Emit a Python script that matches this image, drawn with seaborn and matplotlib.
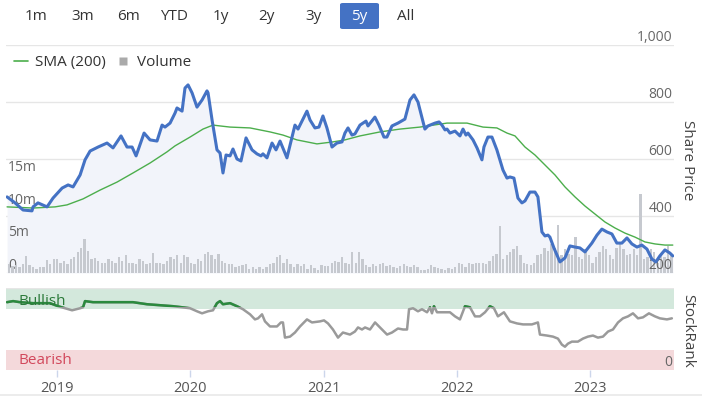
import numpy as np
import matplotlib
matplotlib.use("Agg")
import matplotlib.pyplot as plt
import seaborn as sns
from matplotlib.lines import Line2D
from matplotlib.patches import Rectangle, FancyBboxPatch

# ---------------- data (x in decimal years) ----------------
price_t = [2018.625, 2018.685, 2018.745, 2018.812, 2018.82, 2018.857, 2018.925, 2018.97, 2019.038, 2019.083,
           2019.12, 2019.173, 2019.21, 2019.248, 2019.308, 2019.375, 2019.42, 2019.48, 2019.525, 2019.563,
           2019.593, 2019.653, 2019.698, 2019.75, 2019.788, 2019.81, 2019.848, 2019.885, 2019.9, 2019.938,
           2019.96, 2019.983, 2020.013, 2020.05, 2020.088, 2020.125, 2020.133, 2020.163, 2020.2, 2020.223,
           2020.245, 2020.268, 2020.298, 2020.32, 2020.35, 2020.38, 2020.418, 2020.463, 2020.5, 2020.53,
           2020.545, 2020.575, 2020.613, 2020.643, 2020.673, 2020.725, 2020.785, 2020.808, 2020.875, 2020.898,
           2020.935, 2020.965, 2020.995, 2021.025, 2021.063, 2021.1, 2021.138, 2021.16, 2021.183, 2021.213,
           2021.235, 2021.273, 2021.318, 2021.333, 2021.385, 2021.415, 2021.453, 2021.475, 2021.513, 2021.558,
           2021.61, 2021.648, 2021.678, 2021.708, 2021.76, 2021.783, 2021.836, 2021.866, 2021.888, 2021.911,
           2021.926, 2021.948, 2021.986, 2022.023, 2022.046, 2022.068, 2022.083, 2022.121, 2022.151, 2022.188,
           2022.203, 2022.233, 2022.263, 2022.3, 2022.316, 2022.346, 2022.376, 2022.398, 2022.428, 2022.458,
           2022.488, 2022.511, 2022.548, 2022.586, 2022.608, 2022.638, 2022.661, 2022.683, 2022.698, 2022.728,
           2022.773, 2022.811, 2022.848, 2022.886, 2022.923, 2022.961, 2023.013, 2023.051, 2023.088, 2023.126,
           2023.163, 2023.2, 2023.238, 2023.276, 2023.313, 2023.351, 2023.388, 2023.426, 2023.463, 2023.493,
           2023.523, 2023.561, 2023.598, 2023.62]
price_v = [467, 446, 421, 418, 432, 446, 432, 463, 498, 509,
           502, 544, 597, 628, 642, 656, 639, 681, 642, 642,
           611, 691, 667, 663, 719, 712, 726, 761, 779, 768,
           849, 860, 832, 782, 807, 839, 832, 737, 632, 621,
           551, 614, 611, 635, 600, 593, 674, 632, 618, 611,
           618, 604, 656, 632, 663, 604, 719, 705, 768, 737,
           709, 712, 751, 709, 642, 656, 660, 691, 709, 684,
           688, 719, 733, 716, 747, 719, 677, 677, 716, 726,
           740, 807, 825, 800, 705, 716, 726, 730, 719, 702,
           705, 691, 698, 681, 705, 684, 691, 667, 639, 597,
           642, 677, 677, 632, 607, 561, 533, 537, 533, 463,
           446, 453, 484, 484, 467, 344, 330, 333, 326, 288,
           239, 253, 295, 291, 288, 274, 305, 333, 354, 344,
           337, 305, 305, 323, 302, 291, 298, 284, 249, 239,
           260, 281, 270, 260]

sma_t = [2018.625, 2018.82, 2018.985, 2019.075, 2019.195, 2019.323, 2019.45, 2019.57, 2019.698, 2019.825,
         2019.885, 2019.998, 2020.095, 2020.17, 2020.223, 2020.298, 2020.448, 2020.598, 2020.695, 2020.8,
         2020.95, 2021.07, 2021.16, 2021.273, 2021.423, 2021.573, 2021.723, 2021.926, 2022.076, 2022.196,
         2022.3, 2022.376, 2022.436, 2022.511, 2022.586, 2022.661, 2022.736, 2022.811, 2022.886, 2022.961,
         2023.036, 2023.111, 2023.186, 2023.261, 2023.336, 2023.411, 2023.486, 2023.561, 2023.62]
sma_v = [432, 428, 432, 439, 460, 491, 519, 551, 586, 625,
         646, 677, 705, 719, 716, 712, 709, 695, 684, 667,
         653, 660, 667, 681, 695, 705, 712, 726, 726, 712,
         709, 691, 681, 642, 614, 579, 544, 502, 467, 435,
         407, 379, 358, 340, 326, 309, 302, 298, 298]

# weekly-ish volume bars (millions), first to last trading period
volume_m = [1.4, 1.1, 1.2, 0.9, 1.4, 2.6, 1.2, 0.9, 0.6, 0.9, 0.9, 2.0, 1.4, 2.2, 2.2, 1.6, 1.9, 1.4, 2.2, 2.4,
            3.2, 3.9, 5.2, 3.4, 2.2, 2.3, 1.9, 1.6, 1.6, 2.2, 1.9, 1.6, 2.4, 1.9, 2.7, 1.6, 1.6, 1.4, 2.2, 1.9,
            1.4, 1.6, 3.1, 1.6, 1.6, 1.4, 1.9,
            2.4, 2.2, 2.7, 1.6, 2.7, 2.4, 1.6, 1.4, 2.2, 1.9, 2.9, 3.3, 2.7, 2.2, 2.9, 1.9, 1.6, 1.4, 1.4, 0.9,
            1.1, 1.2, 1.4, 0.6, 0.9, 0.6, 0.9, 0.6, 0.9, 1.4, 1.6, 2.4, 2.8, 1.6, 2.2, 1.4, 0.9, 1.4, 1.1, 1.4,
            0.6, 1.2, 0.7, 0.5, 1.2, 1.1, 1.1, 1.6, 1.9, 1.7,
            2.4, 1.6, 1.4, 3.2, 1.6, 3.3, 2.2, 1.2, 0.9, 1.4, 1.1, 1.4, 1.6, 1.1, 1.2, 0.9, 0.7, 1.1, 1.4, 1.1,
            0.9, 1.2, 0.9, 0.5, 0.4, 0.6, 1.2, 0.9, 0.7, 0.6, 0.4, 0.7, 0.6, 0.9, 1.5, 1.4, 0.9, 1.6, 1.4, 1.6,
            1.6, 1.5, 1.4, 1.9, 2.6, 2.9, 7.2, 2.2, 2.7, 3.2,
            3.7, 4.2, 2.7, 1.6, 1.4, 1.2, 1.6, 2.7, 2.9, 3.9, 3.4, 4.5, 3.8, 7.3, 2.7, 3.7, 2.9, 2.7, 5.6, 2.4,
            2.2, 3.7, 2.7, 1.6, 2.4, 3.2, 4.2, 3.7, 2.7, 2.2, 3.9, 4.7, 3.7, 2.7, 2.9, 3.7, 2.7, 12.2, 2.2, 2.4,
            3.7, 3.2, 1.6, 2.7, 2.4, 4.2, 2.7]
volume_start, volume_end = 2018.64, 2023.61

sr_t = [2018.625, 2018.67, 2018.722, 2018.82, 2018.947, 2019.008, 2019.06, 2019.113, 2019.173, 2019.195,
        2019.21, 2019.27, 2019.375, 2019.473, 2019.57, 2019.675, 2019.773, 2019.87, 2019.938, 2019.998,
        2020.05, 2020.088, 2020.133, 2020.17, 2020.2, 2020.223, 2020.245, 2020.298, 2020.35, 2020.395,
        2020.448, 2020.485, 2020.508, 2020.538, 2020.56, 2020.598, 2020.65, 2020.68, 2020.695, 2020.71,
        2020.748, 2020.785, 2020.823, 2020.875, 2020.913, 2020.973, 2021.003, 2021.033, 2021.07, 2021.108,
        2021.145, 2021.198, 2021.235, 2021.258, 2021.288, 2021.311, 2021.348, 2021.386, 2021.423, 2021.476,
        2021.513, 2021.558, 2021.596, 2021.626, 2021.641, 2021.671, 2021.708, 2021.738, 2021.776, 2021.798,
        2021.813, 2021.828, 2021.851, 2021.896, 2021.948, 2021.986, 2022.023, 2022.061, 2022.098, 2022.136,
        2022.173, 2022.211, 2022.248, 2022.278, 2022.308, 2022.353, 2022.398, 2022.451, 2022.496, 2022.563,
        2022.608, 2022.623, 2022.676, 2022.721, 2022.758, 2022.788, 2022.811, 2022.833, 2022.863, 2022.908,
        2022.946, 2022.983, 2023.021, 2023.058, 2023.096, 2023.134, 2023.171, 2023.209, 2023.246, 2023.284,
        2023.321, 2023.359, 2023.396, 2023.441, 2023.486, 2023.523, 2023.576, 2023.613]
sr_v = [82.7, 84, 82.7, 81.5, 81.5, 77.8, 75.3, 72.8, 75.3, 76.5,
        84, 82.7, 82.7, 82.7, 82.7, 80.2, 79, 77.8, 76.5, 75.3,
        71.6, 69.1, 71.6, 72.8, 81.5, 84, 80.2, 81.5, 77.8, 74.1,
        67.9, 61.7, 63, 67.9, 59.3, 53.1, 53.1, 58, 58, 39.5,
        40.7, 45.7, 53.1, 61.7, 58, 59.3, 60.5, 56.8, 49.4, 39.5,
        45.7, 43.2, 46.9, 51.9, 49.4, 51.9, 49.4, 58, 51.9, 43.2,
        45.7, 50.6, 49.4, 49.4, 74.1, 75.3, 71.6, 74.1, 70.4, 76.5,
        69.1, 77.8, 70.4, 70.4, 70.4, 65.4, 61.7, 77.8, 76.5, 65.4,
        65.4, 70.4, 77.8, 75.3, 65.4, 70.4, 59.3, 56.8, 55.6, 55.6,
        58, 43.2, 42, 40.7, 38.3, 30.9, 28.4, 32.1, 34.6, 34.6,
        38.3, 40.7, 42, 39.5, 40.7, 46.9, 49.4, 58, 63, 65.4,
        69.1, 63, 64.2, 69.1, 65.4, 63, 61.7, 63]

years = [2019, 2020, 2021, 2022, 2023]
price_ticks = [200, 400, 600, 800, 1000]
price_labels = ["200", "400", "600", "800", "1,000"]
vol_ticks = [0, 5, 10, 15]
vol_labels = ["0", "5m", "10m", "15m"]
buttons = ["1m", "3m", "6m", "YTD", "1y", "2y", "3y", "5y", "All"]
selected = "5y"

# ---------------- style ----------------
sns.set_theme(style="white")
plt.rcParams['font.family'] = ['Open Sans', 'DejaVu Sans']

W, H = 702, 396
fig = plt.figure(figsize=(W / 100, H / 100), dpi=100)
fig.patch.set_facecolor("white")


def box(x0, y0, x1, y1):
    return [x0 / W, 1 - y1 / H, (x1 - x0) / W, (y1 - y0) / H]


XMIN, XMAX = 2018.617, 2023.629
BLUE = "#4472c4"
GREEN = "#4cae4c"
GRID = "#e6e6e6"
TXT = "#666666"

ax = fig.add_axes(box(6, 45, 674, 273))
ax_vol = ax.twinx()
ax_p = ax.twinx()

# base layer: grid + area fill
ax.set_xlim(XMIN, XMAX)
ax.set_ylim(200, 1000)
ax.set_yticks(price_ticks)
ax.grid(axis="y", color=GRID, lw=1)
ax.grid(axis="x", visible=False)
ax.tick_params(left=False, bottom=False, labelleft=False, labelbottom=False)
for s in ax.spines.values():
    s.set_visible(False)
ax.fill_between(price_t, price_v, 200, color="#f2f4fa", lw=0)

# volume layer
vol_t = np.linspace(volume_start, volume_end, len(volume_m))
ax_vol.bar(vol_t, volume_m, width=0.0175, color="#c6c9cf", lw=0)
ax_vol.set_ylim(0, 35)
ax_vol.set_xlim(XMIN, XMAX)
ax_vol.yaxis.set_ticks_position("left")
ax_vol.set_yticks(vol_ticks)
ax_vol.set_yticklabels(vol_labels)
ax_vol.tick_params(axis="y", length=0, pad=-1.5, labelsize=10, labelcolor=TXT)
ax_vol.grid(False)
for lab in ax_vol.get_yticklabels():
    lab.set_ha("left")
    lab.set_va("bottom")
for s in ax_vol.spines.values():
    s.set_visible(False)

# price layer
sns.lineplot(x=sma_t, y=sma_v, ax=ax_p, color=GREEN, lw=1.0)
sns.lineplot(x=price_t, y=price_v, ax=ax_p, color=BLUE, lw=2.2)
ax_p.set_xlim(XMIN, XMAX)
ax_p.set_ylim(200, 1000)
ax_p.set_xlabel("")
ax_p.set_ylabel("")
ax_p.set_yticks(price_ticks)
ax_p.set_yticklabels(price_labels)
ax_p.yaxis.set_ticks_position("right")
ax_p.tick_params(axis="y", length=0, pad=-1, labelsize=10, labelcolor=TXT)
ax_p.tick_params(axis="x", bottom=False, labelbottom=False)
ax_p.grid(False)
for lab in ax_p.get_yticklabels():
    lab.set_ha("right")
    lab.set_va("bottom")
for s in ax_p.spines.values():
    s.set_visible(False)

handles = [Line2D([0], [0], color=GREEN, lw=1.2),
           Line2D([0], [0], marker="s", color="none", markerfacecolor="#aaaaaa",
                  markeredgecolor="none", markersize=6, linestyle="None")]
ax_p.legend(handles, ["SMA (200)", "Volume"], loc="upper left",
            bbox_to_anchor=(14 / W, 1 - 55 / H), bbox_transform=fig.transFigure,
            frameon=False, ncol=2, handlelength=0.9, handletextpad=0.45,
            columnspacing=0.7, borderaxespad=0, borderpad=0,
            prop={"size": 11}, labelcolor="#333333")

fig.text(688 / W, 1 - 160 / H, "Share Price", rotation=270, ha="center", va="center",
         fontsize=11, color="#444444")

# ---------------- StockRank panel ----------------
ax_sr = fig.add_axes(box(6, 288, 674, 370))
ax_sr.set_xlim(XMIN, XMAX)
ax_sr.set_ylim(0, 100)
ax_sr.axhspan(75, 100, color="#d3e8dc", lw=0, zorder=0)
ax_sr.axhspan(0, 25, color="#f4d9db", lw=0, zorder=0)
ax_sr.axhline(100, color=GRID, lw=1, zorder=0.5)
sns.lineplot(x=sr_t, y=sr_v, ax=ax_sr, color="#9a9a9a", lw=1.8)
sns.lineplot(x=sr_t, y=sr_v, ax=ax_sr, color="#2b8a3e", lw=1.8)
green_line = ax_sr.lines[-1]
clip = Rectangle((XMIN, 77), XMAX - XMIN, 40, transform=ax_sr.transData)
green_line.set_clip_path(clip)
ax_sr.set_xlabel("")
ax_sr.set_ylabel("")
ax_sr.set_xticks(years)
ax_sr.set_xticklabels([str(y) for y in years])
ax_sr.tick_params(axis="x", bottom=True, length=5, width=1, color="#ccd6eb",
                  pad=3, labelsize=10.5, labelcolor="#555555")
ax_sr.yaxis.set_ticks_position("right")
ax_sr.set_yticks([0])
ax_sr.set_yticklabels(["0"])
ax_sr.tick_params(axis="y", length=0, pad=-1, labelsize=10, labelcolor=TXT)
for lab in ax_sr.get_yticklabels():
    lab.set_ha("right")
    lab.set_va("bottom")
ax_sr.grid(False)
for s in ax_sr.spines.values():
    s.set_visible(False)
ax_sr.text(12 / 668, 0.84, "Bullish", transform=ax_sr.transAxes, ha="left", va="center",
           fontsize=11, color="#2b7a3a")
ax_sr.text(12 / 668, 0.11, "Bearish", transform=ax_sr.transAxes, ha="left", va="center",
           fontsize=11, color="#d2485c")

fig.text(688 / W, 1 - 331 / H, "StockRank", rotation=270, ha="center", va="center",
         fontsize=11, color="#444444")

# ---------------- range selector buttons ----------------
btn_x = [36, 82.5, 128, 174, 221, 266.5, 313.5, 359.5, 406]
for label, bx in zip(buttons, btn_x):
    if label == selected:
        fig.patches.append(FancyBboxPatch((340 / W, 1 - 29 / H), 39 / W, 26 / H,
                                          boxstyle="round,pad=0,rounding_size=0.004",
                                          transform=fig.transFigure, facecolor=BLUE,
                                          edgecolor="none"))
        col = "white"
    else:
        col = "#333333"
    fig.text(bx / W, 1 - 16 / H, label, ha="center", va="center", fontsize=11, color=col)

# navigator hint line at bottom
fig.add_artist(Line2D([0, 1], [1 - 394.5 / H] * 2, color="#e9e9e9", lw=1.2,
                      transform=fig.transFigure))

fig.savefig("out.png", dpi=100)
